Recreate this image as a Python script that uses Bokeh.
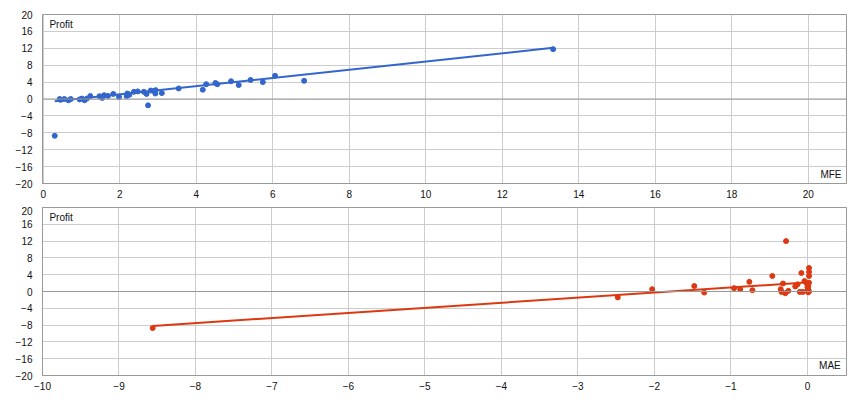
from bokeh.plotting import figure
from bokeh.layouts import column
from bokeh.models import Range1d, FixedTicker, Label, Span
from bokeh.embed import file_html
from bokeh.resources import INLINE

# ---- data ----
mfe = [0.30, 0.43, 0.45, 0.55, 0.66, 0.72, 0.95, 1.01, 1.08, 1.14, 1.23, 1.47, 1.54,
       1.59, 1.69, 1.83, 1.98, 2.18, 2.20, 2.25, 2.37, 2.47, 2.63, 2.70, 2.74, 2.81,
       2.90, 2.94, 2.93, 3.10, 3.54, 4.17, 4.26, 4.50, 4.55, 4.91, 5.11, 5.42, 5.74,
       6.06, 6.82, 13.33]
profit_mfe = [-8.7, 0.0, -0.2, 0.0, -0.3, 0.0, -0.1, 0.1, -0.3, 0.1, 0.7, 0.66, 0.26,
              0.9, 0.73, 1.2, 0.5, 0.7, 1.3, 1.0, 1.7, 1.8, 1.7, 1.2, -1.5, 2.0,
              1.9, 2.1, 1.3, 1.4, 2.5, 2.2, 3.5, 3.8, 3.5, 4.2, 3.3, 4.5, 4.0,
              5.5, 4.3, 11.8]
mfe_trend_slope = 0.97
mfe_trend_intercept = -0.82

mae = [-8.56, -2.48, -2.03, -1.48, -1.35, -0.96, -0.88, -0.76, -0.72, -0.46, -0.35,
       -0.34, -0.32, -0.29, -0.28, -0.25, -0.16, -0.13, -0.10, -0.08, -0.06, -0.04,
       -0.01, 0.0, 0.01, 0.02, 0.02, 0.02, 0.02, 0.01, 0.0, 0.02, 0.01]
profit_mae = [-8.7, -1.4, 0.55, 1.3, -0.25, 0.8, 0.55, 2.3, 0.3, 3.7, 0.55,
              -0.1, 1.9, -0.4, 12.0, 0.15, 1.2, 1.7, -0.1, 4.4, -0.1, 2.5,
              1.9, 0.2, 0.5, 5.6, 4.65, 3.7, 2.1, 1.3, 1.0, 0.0, -0.2]
mae_trend_slope = 1.21
mae_trend_intercept = 2.15

y_ticks = [-20, -16, -12, -8, -4, 0, 4, 8, 12, 16, 20]
mfe_ticks = [0, 2, 4, 6, 8, 10, 12, 14, 16, 18, 20]
mae_ticks = [-10, -9, -8, -7, -6, -5, -4, -3, -2, -1, 0]

FONT = "Liberation Sans"
GRID = "#cccccc"
AX = "#999999"


def make_fig(xr, xticks, frame_h, top, bottom):
    p = figure(frame_width=804, frame_height=frame_h, output_backend="svg",
               toolbar_location=None,
               x_range=Range1d(*xr), y_range=Range1d(-20, 20),
               min_border_left=42, min_border_right=14,
               min_border_top=top, min_border_bottom=bottom)
    p.outline_line_color = AX
    p.background_fill_color = "white"
    p.border_fill_color = "white"
    p.xaxis.ticker = FixedTicker(ticks=xticks)
    p.yaxis.ticker = FixedTicker(ticks=y_ticks)
    for ax in (p.xaxis[0], p.yaxis[0]):
        ax.axis_line_color = AX
        ax.major_tick_line_color = None
        ax.minor_tick_line_color = None
        ax.major_label_text_font = FONT
        ax.major_label_text_font_size = "10px"
        ax.major_label_text_color = "#111111"
    p.xaxis[0].major_label_standoff = 0
    p.yaxis[0].major_label_standoff = 4
    p.xgrid.ticker = FixedTicker(ticks=xticks)
    p.ygrid.ticker = FixedTicker(ticks=y_ticks)
    p.xgrid.grid_line_color = GRID
    p.ygrid.grid_line_color = GRID
    p.add_layout(Span(location=0, dimension="width", line_color=AX, line_width=1))
    return p


# ---- top chart (MFE) ----
p1 = make_fig((-0.02, 21.0), mfe_ticks, 169, 14, 23)
blue = "#3366cc"
x0, x1 = min(mfe), max(mfe)
p1.line([x0, x1], [mfe_trend_slope * x0 + mfe_trend_intercept,
                   mfe_trend_slope * x1 + mfe_trend_intercept],
        line_color=blue, line_width=2)
p1.scatter(mfe, profit_mfe, size=5, color=blue)
p1.add_layout(Label(x=0.16, y=19.0, text="Profit", text_font=FONT, text_font_size="10px",
                    text_baseline="top", text_align="left", text_color="#111111"))
p1.add_layout(Label(x=20.87, y=-19.2, text="MFE", text_font=FONT, text_font_size="10px",
                    text_baseline="bottom", text_align="right", text_color="#111111"))

# ---- bottom chart (MAE) ----
p2 = make_fig((-10.0, 0.51), mae_ticks, 168, 1, 24)
red = "#dc3912"
x0, x1 = min(mae), max(mae)
p2.line([x0, x1], [mae_trend_slope * x0 + mae_trend_intercept,
                   mae_trend_slope * x1 + mae_trend_intercept],
        line_color=red, line_width=2)
p2.scatter(mae, profit_mae, size=5, color=red)
p2.add_layout(Label(x=-9.91, y=19.0, text="Profit", text_font=FONT, text_font_size="10px",
                    text_baseline="top", text_align="left", text_color="#111111"))
p2.add_layout(Label(x=0.435, y=-19.0, text="MAE", text_font=FONT, text_font_size="10px",
                    text_baseline="bottom", text_align="right", text_color="#111111"))

layout = column(p1, p2, spacing=0)
open("out.html", "w").write(file_html(layout, INLINE))
